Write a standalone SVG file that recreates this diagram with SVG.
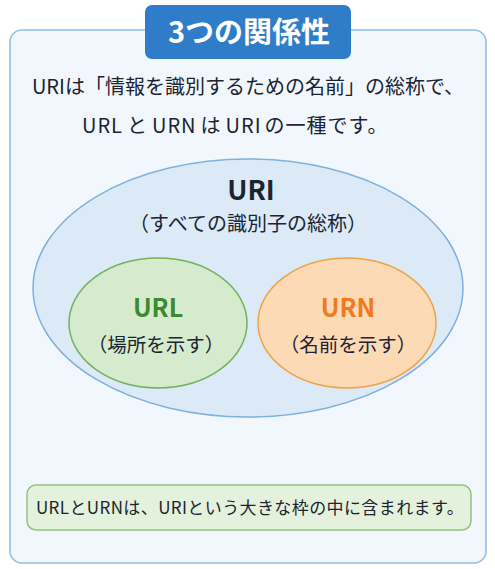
<svg xmlns="http://www.w3.org/2000/svg" width="495" height="569" viewBox="0 0 495 569">
<style>
.t{font-family:"Noto Sans CJK JP","Noto Sans",sans-serif;text-anchor:middle;fill:#1b2430}
.b{font-weight:bold}
</style>
<rect width="495" height="569" fill="#ffffff"/>
<g id="panel">
<rect x="10" y="30" width="476" height="533" rx="12" fill="#f2f7fd" stroke="#8fbfe6" stroke-width="1.5"/>
</g>
<g id="title">
<rect x="145" y="5" width="206" height="54" rx="7" fill="#2f7cc8"/>
<text class="t b" x="249" y="43" font-size="29" style="fill:#ffffff">3つの関係性</text>
</g>
<g id="intro">
<text class="t" x="248" y="94" font-size="20">URIは「情報を識別するための名前」の総称で、</text>
<text class="t" x="82" y="133" font-size="20" letter-spacing="1" style="text-anchor:start">URL<tspan dx="4">と</tspan><tspan dx="4">URN</tspan><tspan dx="4">は</tspan><tspan dx="4">URI</tspan><tspan dx="3">の一種です。</tspan></text>
</g>
<g id="uri">
<ellipse cx="248" cy="288" rx="215" ry="129" fill="#dceaf8" stroke="#7fb0de" stroke-width="1.5"/>
<text class="t b" x="251" y="200" font-size="27">URI</text>
<text class="t" x="248" y="231" font-size="20">（すべての識別子の総称）</text>
</g>
<g id="url">
<ellipse cx="158" cy="323" rx="89" ry="65" fill="#d6ebcd" stroke="#72b25c" stroke-width="1.5"/>
<text class="t b" x="158" y="317" font-size="25" style="fill:#3c8a2e">URL</text>
<text class="t" x="156" y="352" font-size="19.5">（場所を示す）</text>
</g>
<g id="urn">
<ellipse cx="347" cy="323" rx="89" ry="65" fill="#fbdab5" stroke="#f0a24a" stroke-width="1.5"/>
<text class="t b" x="348" y="317" font-size="25" style="fill:#f07a1e">URN</text>
<text class="t" x="348" y="352" font-size="19.5">（名前を示す）</text>
</g>
<g id="note">
<rect x="27" y="485" width="444" height="45" rx="9" fill="#e4f1dc" stroke="#93c47d" stroke-width="1.5"/>
<text class="t" x="250" y="514" font-size="17" letter-spacing="0.4">URLとURNは、URIという大きな枠の中に含まれます。</text>
</g>
<g id="connectors"></g>
</svg>
